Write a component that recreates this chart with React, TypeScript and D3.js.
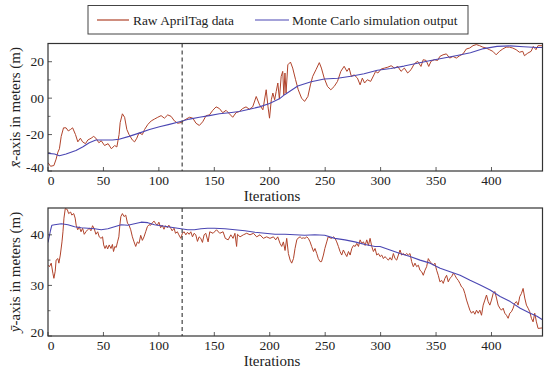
import React from "react";
import * as d3 from "d3";

// ---------- data ----------
const xTicks = [0, 50, 100, 150, 200, 250, 300, 350, 400];
const xDomain: [number, number] = [0, 446];
const markerIter = 121;

const topYTicks = [20, 0, -20, -40];
const topYTickLabels = ["20", "00", "-20", "-40"];
const topYMinor = [10, -10, -30];
const topYDomain: [number, number] = [-40, 30];

const botYTicks = [20, 30, 40];
const botYTickLabels = ["20", "30", "40"];
const botYMinor = [25, 35];
const botYDomain: [number, number] = [20, 45.3];

const legendLabels = ["Raw AprilTag data", "Monte Carlo simulation output"];
const xLabel = "Iterations";

// x̄ : raw (iteration, value)
const topRaw: [number, number][] = [
  [0, -35.4], [2.3, -37.4], [5.3, -37], [7.3, -33.5], [8.9, -29.7], [10.3, -27.8], [11.9, -21], [14, -16.3],
  [16.3, -16.3], [18.3, -18], [20.3, -17.2], [22.2, -16.3], [24.8, -20], [26.9, -24], [29.2, -22], [31.2, -24],
  [33.8, -25], [35.9, -23], [38.9, -22], [41.2, -21], [43.2, -22], [45.9, -24.5], [48, -23.4], [51, -26],
  [54.2, -25], [57.2, -27.8], [60.1, -26], [62.1, -26.8], [64.1, -20], [65.1, -13.4], [67.1, -8.6], [69.1, -10.5],
  [71.1, -17.2], [73.1, -20], [76.1, -23], [78.1, -24], [80.1, -22], [82.1, -19], [85.1, -20], [87.1, -17.2],
  [90.1, -14.4], [93.1, -12.5], [96, -11.5], [99, -10.5], [102, -9.6], [105, -11], [108, -9.2], [111, -10],
  [114, -12.5], [117, -13.8], [120, -13.4], [122, -12.5], [124.6, -11.5], [127.6, -10.5], [130.6, -11], [133.5, -13.8],
  [136.5, -15], [139.5, -13], [142.6, -9.6], [145.6, -9.2], [148.6, -6.7], [151.6, -4.8], [154.6, -5.7], [157.6, -8],
  [160.6, -6.7], [163.6, -8.6], [166.6, -10.5], [169.6, -8], [172.6, -7.3], [175.6, -5.7], [178.6, -4.8], [181.6, -6.1],
  [184.6, -4.8], [187.8, 0.9], [190.8, -3.7], [193.8, -6.4], [196.8, 4.6], [198.4, -4.6], [199.8, -11], [201.4, -0.9],
  [202.8, 2.8], [204.4, -0.9], [205.8, 3.6], [207.3, 8.3], [208.7, -0.5], [210.3, 11.9], [211.7, 14.7], [212.7, 1.8],
  [213.7, 13.8], [214.7, 2.8], [216.3, 18.3], [218.7, 19.8], [220.7, 16.5], [223.3, 10.1], [225.7, 4.6], [228.7, 0],
  [231.4, -1.8], [234.4, 0.9], [236.7, 7.3], [238.7, 11.9], [241.7, 15.6], [244.7, 19.5], [246.6, 16.5], [249.1, 11],
  [252.1, 6.4], [255.1, 4.6], [258.1, 6.4], [261.1, 9.2], [264.1, 14.7], [267.1, 17.5], [269.6, 14.7], [271.6, 16.5],
  [273.6, 11.9], [276.1, 12.8], [279.1, 11], [281.5, 7.3], [283.5, 11], [285.5, 8.3], [288, 10.1], [291, 9.2],
  [294, 12.8], [295.5, 14.7], [297.5, 13.8], [300.5, 16], [303.5, 16.5], [306.5, 17], [309.5, 17.8], [312.5, 16.5],
  [315.5, 17.4], [318.4, 14.7], [321.4, 16.5], [324.4, 13.8], [327.4, 15.6], [330.4, 18.9], [333.4, 20.2], [336.4, 17.4],
  [338.4, 21.1], [341, 20.7], [343.4, 17.4], [345.4, 20.2], [348.4, 21.1], [351.4, 20.7], [353.4, 22.9], [356.3, 23.8],
  [359.3, 24.3], [362.3, 22], [365.3, 22.9], [368.3, 22], [371.3, 23.3], [374.3, 24.3], [377.3, 27], [380.3, 27.5],
  [383.3, 28.8], [386.3, 29.4], [389.3, 28.8], [392.2, 28], [395.2, 27.5], [398.2, 26.6], [401.2, 25.7], [404.2, 23.8],
  [407.2, 25.7], [410.2, 27], [413.2, 28], [416.2, 28], [419.2, 27.5], [422.2, 26.6], [425.2, 25.2], [428.2, 25.7],
  [429.7, 23.3], [432.7, 24.7], [435.7, 25.7], [437.7, 28.4], [440.1, 26.6], [441.9, 28.8], [446, 28.8],
];

// x̄ : Monte Carlo output
const topSim: [number, number][] = [
  [0, -30.3], [5.9, -30.7], [10.3, -31.6], [16.3, -30.7], [25.2, -28.7], [31.2, -26.8], [37.2, -24.5], [43.2, -23],
  [49.2, -23], [58.1, -23], [64.1, -22.6], [73.1, -21], [82.1, -19.2], [91.6, -17.2], [100.5, -15.7], [109.5, -14.4],
  [118.6, -13], [127.6, -11.5], [136.5, -10.5], [145.6, -9.6], [154.6, -8.6], [163.6, -8], [172.6, -7.3], [181.6, -6.1],
  [190.7, -4.8], [199.8, -2.9], [208.7, -0.4], [213.4, 1.9], [225.3, 6.7], [237.3, 9], [249.2, 10.5], [261.2, 10.9],
  [273.2, 12], [285.1, 13.4], [297.1, 15.3], [309.2, 16.3], [321.1, 17.6], [333.1, 19.2], [345.1, 20.7], [357.1, 22],
  [369, 23.4], [381, 24.9], [393, 27.2], [405, 28.4], [417, 28.7], [429, 28.2], [441, 27.8], [446, 27.8],
];

// ȳ : raw (iteration, value)
const botRaw: [number, number][] = [
  [0, 34], [1.3, 33.7], [2.9, 34.4], [4.4, 32.4], [5.3, 31.4], [6.5, 32.8], [7.3, 35], [8.9, 35.3],
  [9.8, 34.4], [11.1, 36], [12.6, 38.6], [13.5, 40.6], [14.4, 43.3], [15.6, 45.2], [17.4, 45], [18.6, 44.2],
  [20.4, 44.5], [21.5, 43.9], [23.2, 44.2], [24.5, 43.3], [25.4, 41.9], [26.8, 41], [28.2, 41.6], [29.8, 40.6],
  [31.2, 41.3], [32.7, 40.1], [34.2, 40.6], [35.7, 41], [37.2, 41.3], [38.7, 40.8], [40.2, 41.8], [41.7, 41.2],
  [43.2, 40.1], [44.8, 40.6], [46.2, 39.6], [47.8, 39.3], [49.2, 39.6], [50.2, 38], [51.4, 37.3], [52.6, 37.9],
  [53.8, 37.2], [55.2, 38], [56.8, 37.3], [58.1, 38.1], [59.1, 36.7], [60.3, 37.7], [61.5, 37.5], [62.7, 38.6],
  [63.9, 39.6], [64.8, 41.9], [65.7, 43.6], [67.1, 44.2], [68.6, 43.6], [70.1, 43.9], [71.7, 42.3], [73.1, 41.9],
  [74.6, 41], [76.1, 39.6], [77.6, 38.6], [79.1, 37.7], [80.6, 38.6], [82.1, 38.3], [83.6, 39.9], [85.1, 38.9],
  [86.6, 39.6], [88.1, 40.6], [89.6, 41.6], [91.1, 42], [92.7, 41.9], [94.1, 42.4], [95.7, 42.7], [97.1, 42.2],
  [98.6, 41.9], [100, 42.5], [101.6, 41.4], [103, 41.9], [104.6, 41.1], [106, 41.8], [107.6, 41.4], [109, 41.9],
  [110.7, 41.3], [112, 40.8], [113.7, 41.3], [115, 40.3], [116.7, 40.6], [118, 40], [119.8, 39.3], [121.2, 40.3],
  [122.8, 40.6], [124.3, 40], [125.8, 40.5], [127.3, 40.1], [128.8, 40.6], [130.3, 39.6], [131.8, 40.3], [133.3, 40],
  [134.8, 38.7], [136.3, 39.6], [137.8, 39.3], [139.3, 38.5], [140.8, 40], [142.3, 40.3], [144.4, 38.6], [145.9, 40.6],
  [148.9, 40.3], [152, 41], [154.9, 40.3], [157.9, 40.6], [159.9, 39.3], [162.5, 39], [164.9, 40], [166.9, 39.3],
  [168.6, 40.3], [170.1, 37.7], [170.9, 40.1], [173.2, 39.6], [176.2, 40], [179.2, 40.3], [182.2, 40], [185.3, 40.3],
  [188.2, 39.6], [191.2, 40], [194.2, 39.3], [197.2, 39.6], [200.2, 39.3], [203.3, 39.6], [205.4, 39], [207.2, 39.6],
  [209.3, 38.3], [210.8, 37.7], [212.3, 38.6], [213.8, 36.9], [215.3, 39.3], [216.8, 36.3], [218.4, 35], [219.8, 34.4],
  [221.4, 35.3], [222.8, 37.3], [224.4, 39], [225.8, 39.4], [227.4, 39.6], [228.8, 39.3], [230.4, 39.4], [231.8, 39.3],
  [233.4, 39.6], [234.8, 39.3], [236.4, 38.6], [237.8, 37.7], [239.5, 36.7], [240.8, 37.3], [242.4, 36.3], [243.8, 35.3],
  [245.4, 34.7], [246.7, 34.7], [248.4, 36], [249.7, 37.3], [251.4, 38.6], [252.7, 39.6], [254.4, 39.4], [255.7, 39.3],
  [257.5, 39.6], [258.9, 39.3], [260.4, 38.6], [261.9, 37.7], [263.4, 36.7], [264.9, 36], [266.4, 37], [268, 36.3],
  [269.5, 35.7], [271, 36.7], [272.5, 36], [274, 37.3], [275.5, 37.9], [277, 37.7], [278.5, 38.3], [280, 37.7],
  [281.5, 39], [283, 38.3], [284.5, 38.6], [286, 37.9], [287.5, 39], [289, 37.9], [290.5, 39.3], [292, 37.7],
  [293.5, 36.7], [295, 37.3], [296.5, 36], [298, 36.3], [299.5, 35.7], [301, 36], [302.5, 35.3], [304, 35.7],
  [305.5, 35.3], [307, 35], [308.5, 35.5], [310, 35], [311.5, 36.3], [313, 35.3], [314.5, 35], [316, 36],
  [317.5, 37], [319, 36], [320.5, 36.3], [322, 36], [323.5, 36.3], [325, 36], [326.5, 36.3], [328, 34.7],
  [329.5, 33.7], [331, 34.4], [332.5, 33.7], [334, 34], [335.5, 33], [337, 32.7], [338.5, 32], [340, 33],
  [341.5, 33.7], [343, 35.3], [344.5, 34.7], [346, 34.4], [347.5, 34], [349, 34.4], [350.5, 33], [352, 32],
  [353.5, 30.7], [355, 31], [356.5, 30.4], [358, 31.4], [359.5, 32], [361, 30.7], [362.5, 31.4], [364, 31.7],
  [365.5, 32.4], [367, 32], [368.5, 31.4], [370, 31], [371.5, 30.4], [373, 29.7], [374.5, 29.4], [376, 28.4],
  [377.5, 27.1], [379, 26.1], [380.5, 25.1], [382, 24.5], [383.5, 24.9], [385, 24.3], [386.5, 25.1], [388, 24.5],
  [389.5, 25.1], [391, 24.1], [392.5, 26.1], [394, 27.1], [395.5, 28.1], [397, 26.8], [398.5, 26.1], [400, 27.1],
  [401.5, 28.4], [403, 28.8], [404.5, 27.5], [406, 26.1], [407.5, 25.5], [409, 25.1], [410.5, 25.5], [412, 24.5],
  [413.5, 24.1], [415, 23.5], [416.5, 24.5], [418, 24.8], [419.5, 25.5], [421, 26.5], [422.5, 26.8], [424, 26.1],
  [425.5, 27.8], [427, 28.4], [428.5, 29.4], [430, 27.5], [431.5, 26.1], [433, 25.5], [434.5, 24.8], [436, 23.5],
  [437.5, 22.8], [439, 24.5], [440.5, 22.8], [442, 21.5], [446, 21.6],
];

// ȳ : Monte Carlo output
const botSim: [number, number][] = [
  [0, 38.5], [2.3, 40.9], [3.5, 41.9], [5.9, 42], [12, 42.2], [18, 42], [24, 41.6], [30, 41.4],
  [36, 41.3], [42, 41.2], [48, 41], [54, 41.2], [60, 41.6], [66, 42], [72, 41.9], [78, 42.2],
  [84, 42.5], [90, 42.4], [96, 42], [102, 41.8], [108, 41.6], [114, 41.4], [120, 41.2], [126, 41],
  [132, 41], [138, 41.2], [144, 41.3], [150, 41.3], [159.6, 41.2], [168.6, 41], [177.6, 40.8], [186.7, 40.5],
  [195.7, 40.3], [204.7, 40.1], [213.7, 40.1], [222.7, 40], [231.6, 39.9], [240.6, 40], [249.6, 39.9], [258.7, 39.3],
  [267.8, 39], [276.8, 38.6], [285.9, 38.1], [294.9, 37.7], [299.5, 37.7], [308.5, 37], [317.5, 36.3], [326.5, 35.7],
  [335.6, 35], [344.6, 34.4], [353.7, 33.4], [362.7, 32.7], [371.7, 32], [380.7, 31], [389.8, 30.1], [398.8, 29.1],
  [407.8, 27.8], [416.9, 26.8], [425.9, 25.5], [434.9, 24.5], [441, 23.9], [446, 23.2],
];

// ---------- style ----------
const RAW = "#b0432b";
const SIM = "#4b47b3";
const FRAME = "#333";
const FONT = "Liberation Serif, DejaVu Serif, serif";

const W = 550;
const H = 376;
const left = 48;
const right = 542.5;

type PanelProps = {
  top: number;
  bottom: number;
  yDomain: [number, number];
  yTicks: number[];
  yTickLabels: string[];
  yMinor: number[];
  raw: [number, number][];
  sim: [number, number][];
  yLabelVar: string;
  id: string;
};

const txt = (size: number): React.CSSProperties => ({ fontFamily: FONT, fontSize: size + "px" });

function Panel(p: PanelProps) {
  const x = d3.scaleLinear().domain(xDomain).range([left, right]);
  const y = d3.scaleLinear().domain(p.yDomain).range([p.bottom, p.top]);
  const line = d3
    .line<[number, number]>()
    .x((d) => x(d[0]))
    .y((d) => y(d[1]));
  const cx = (p.top + p.bottom) / 2;
  return (
    <g>
      <defs>
        <clipPath id={p.id}>
          <rect x={left} y={p.top} width={right - left} height={p.bottom - p.top} />
        </clipPath>
      </defs>
      <g clipPath={`url(#${p.id})`}>
        <path d={line(p.raw) || ""} fill="none" stroke={RAW} strokeWidth={1} strokeLinejoin="round" />
        <path d={line(p.sim) || ""} fill="none" stroke={SIM} strokeWidth={1.1} strokeLinejoin="round" />
      </g>
      <line
        x1={x(markerIter)}
        x2={x(markerIter)}
        y1={p.top}
        y2={p.bottom}
        stroke="#444"
        strokeWidth={1.2}
        strokeDasharray="4,3"
      />
      {xTicks.map((t) => (
        <g key={"xt" + t}>
          <line x1={x(t)} x2={x(t)} y1={p.bottom} y2={p.bottom - 4} stroke={FRAME} strokeWidth={0.8} />
          <text x={x(t) + (t === 0 ? 3 : 0)} y={p.bottom + 13.5} textAnchor="middle" style={txt(13.5)} fill="#222">
            {t}
          </text>
        </g>
      ))}
      {p.yTicks.map((t, i) => (
        <g key={"yt" + t}>
          <line x1={left} x2={left + 4} y1={y(t)} y2={y(t)} stroke={FRAME} strokeWidth={0.8} />
          <text x={44} y={Math.min(y(t), p.bottom - 4) + 4.5} textAnchor="end" style={txt(13.5)} fill="#222">
            {p.yTickLabels[i]}
          </text>
        </g>
      ))}
      {p.yMinor.map((t) => (
        <line key={"ym" + t} x1={left} x2={left + 2.5} y1={y(t)} y2={y(t)} stroke={FRAME} strokeWidth={0.7} />
      ))}
      <rect
        x={left}
        y={p.top}
        width={right - left}
        height={p.bottom - p.top}
        fill="none"
        stroke={FRAME}
        strokeWidth={1.2}
      />
      <text transform={`translate(20,${cx}) rotate(-90)`} textAnchor="middle" style={txt(15)} fill="#222">
        <tspan fontStyle="italic">{p.yLabelVar}</tspan>
        <tspan>-axis in meters (m)</tspan>
      </text>
      <text x={272} y={p.bottom + 30} textAnchor="middle" style={txt(15)} fill="#222">
        {xLabel}
      </text>
    </g>
  );
}

export default function App() {
  return (
    <svg
      width={W}
      height={H}
      style={{ position: "absolute", left: 0, top: 0, background: "#fff" }}
      xmlns="http://www.w3.org/2000/svg"
    >
      <rect x={0} y={0} width={W} height={H} fill="#fff" />
      <rect x={88} y={5.5} width={380} height={28.5} fill="#fff" stroke="#444" strokeWidth={1} />
      <line x1={97} x2={129} y1={20} y2={20} stroke={RAW} strokeWidth={1.2} />
      <text x={133} y={24.5} style={txt(13.4)} fill="#222">
        {legendLabels[0]}
      </text>
      <line x1={255} x2={289} y1={20} y2={20} stroke={SIM} strokeWidth={1.2} />
      <text x={292} y={24.5} style={txt(13.4)} fill="#222">
        {legendLabels[1]}
      </text>
      <Panel
        id="clipTop"
        top={43.5}
        bottom={171}
        yDomain={topYDomain}
        yTicks={topYTicks}
        yTickLabels={topYTickLabels}
        yMinor={topYMinor}
        raw={topRaw}
        sim={topSim}
        yLabelVar={"x\u0304"}
      />
      <Panel
        id="clipBot"
        top={208}
        bottom={336}
        yDomain={botYDomain}
        yTicks={botYTicks}
        yTickLabels={botYTickLabels}
        yMinor={botYMinor}
        raw={botRaw}
        sim={botSim}
        yLabelVar={"y\u0304"}
      />
    </svg>
  );
}
